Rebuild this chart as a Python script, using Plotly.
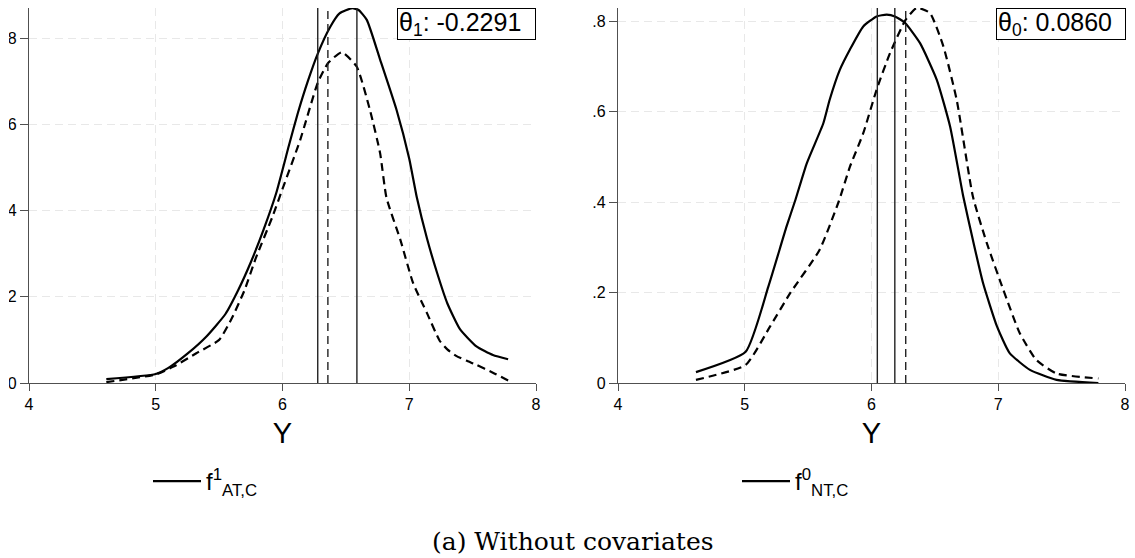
import plotly.graph_objects as go

W, H = 1135, 558

# ---------------- data ----------------
# Left panel: compliers vs always-takers
left_solid_x = [4.61, 5.0, 5.1, 5.25, 5.4, 5.55, 5.65, 5.75, 5.85, 5.95, 6.05, 6.12, 6.2,
                6.28, 6.375, 6.45, 6.55, 6.6, 6.665, 6.77, 6.9, 7.0, 7.06, 7.14, 7.22,
                7.3, 7.4, 7.53, 7.66, 7.78]
left_solid_y = [0.009, 0.021, 0.035, 0.068, 0.108, 0.16, 0.215, 0.28, 0.355, 0.44, 0.55,
                0.625, 0.70, 0.765, 0.825, 0.857, 0.869, 0.865, 0.842, 0.75, 0.633, 0.52,
                0.43, 0.335, 0.255, 0.185, 0.125, 0.085, 0.065, 0.055]
left_dash_x = [4.61, 5.0, 5.14, 5.32, 5.5, 5.6, 5.7, 5.79, 5.92, 6.0, 6.14, 6.278, 6.36,
               6.467, 6.585, 6.69, 6.77, 6.82, 6.93, 7.03, 7.14, 7.24, 7.3, 7.37, 7.45,
               7.53, 7.66, 7.78]
left_dash_y = [0.002, 0.02, 0.038, 0.069, 0.10, 0.15, 0.215, 0.29, 0.385, 0.45, 0.564,
               0.696, 0.742, 0.767, 0.734, 0.633, 0.533, 0.43, 0.332, 0.232, 0.162, 0.098,
               0.078, 0.063, 0.052, 0.042, 0.024, 0.006]
left_vlines_solid = [6.278, 6.587]
left_vline_dash = [6.358]
left_theta_label = "θ<sub>1</sub>: -0.2291"
left_legend_label = "f<sup>1</sup><sub>AT,C</sub>"

# Right panel: compliers vs never-takers
right_solid_x = [4.615, 5.007, 5.186, 5.33, 5.40, 5.49, 5.62, 5.67, 5.75, 5.83, 5.935,
                 6.04, 6.12, 6.185, 6.264, 6.383, 6.515, 6.62, 6.724, 6.80, 6.88, 6.99,
                 7.09, 7.25, 7.46, 7.79]
right_solid_y = [0.024, 0.069, 0.213, 0.346, 0.405, 0.486, 0.574, 0.626, 0.692, 0.737,
                 0.788, 0.81, 0.814, 0.81, 0.796, 0.751, 0.670, 0.567, 0.412, 0.316,
                 0.221, 0.125, 0.066, 0.029, 0.007, 0.0]
right_dash_x = [4.615, 5.007, 5.2, 5.357, 5.59, 5.74, 5.83, 5.935, 6.04, 6.146, 6.27,
                6.357, 6.46, 6.567, 6.672, 6.80, 6.91, 7.04, 7.17, 7.30, 7.46, 7.79]
right_dash_y = [0.007, 0.04, 0.125, 0.198, 0.294, 0.40, 0.478, 0.552, 0.648, 0.729,
                0.803, 0.829, 0.818, 0.744, 0.626, 0.412, 0.309, 0.206, 0.11, 0.051,
                0.021, 0.01]
right_vlines_solid = [6.046, 6.184]
right_vline_dash = [6.270]
right_theta_label = "θ<sub>0</sub>: 0.0860"
right_legend_label = "f<sup>0</sup><sub>NT,C</sub>"

x_ticks = [4, 5, 6, 7, 8]
y_ticks = [0, 0.2, 0.4, 0.6, 0.8]
y_ticktext = ["0", ".2", ".4", ".6", ".8"]
caption = "(a) Without covariates"

# ---------------- geometry ----------------
def px(v):
    return v / W

def py(v):
    return (H - v) / H

plot_top, plot_bottom = 8, 383
left_x0, left_x1 = 29, 536
right_x0, right_x1 = 618, 1125
left_ymax = (plot_bottom - plot_top) / 431.25
right_ymax = (plot_bottom - plot_top) / 452.5

DASH = "8px,5px"
GRID = "#e8e8e8"
AXC = "#505050"
FONT = "Liberation Sans"

fig = go.Figure()

def add_panel(xs, ys, xd, yd, xa, ya, legend, name):
    fig.add_trace(go.Scatter(x=xs, y=ys, mode="lines", xaxis=xa, yaxis=ya,
                             line=dict(color="black", width=2.2, shape="spline", smoothing=0.5),
                             name=name, legend=legend, showlegend=True))
    fig.add_trace(go.Scatter(x=xd, y=yd, mode="lines", xaxis=xa, yaxis=ya,
                             line=dict(color="black", width=2.2, dash=DASH, shape="spline", smoothing=0.5),
                             showlegend=False))

add_panel(left_solid_x, left_solid_y, left_dash_x, left_dash_y, "x", "y", "legend", left_legend_label)
add_panel(right_solid_x, right_solid_y, right_dash_x, right_dash_y, "x2", "y2", "legend2", right_legend_label)

def vlines(vals, xref, yref, dash):
    for v in vals:
        fig.add_shape(type="line", x0=v, x1=v, y0=0, y1=1, xref=xref, yref=yref + " domain",
                      line=dict(color="#222222", width=1.4, dash=dash))

vlines(left_vlines_solid, "x", "y", "solid")
vlines(left_vline_dash, "x", "y", DASH)
vlines(right_vlines_solid, "x2", "y2", "solid")
vlines(right_vline_dash, "x2", "y2", DASH)

# crop of the left edge as in the reference
fig.add_shape(type="rect", xref="paper", yref="paper", x0=-0.05, x1=px(9), y0=0.25, y1=1.05,
              fillcolor="white", line=dict(width=0), layer="above")

axis_common = dict(showline=True, linecolor=AXC, linewidth=1.3, ticks="outside",
                   tickcolor=AXC, tickwidth=1.2, showgrid=True, gridcolor=GRID, gridwidth=1,
                   griddash=DASH, zeroline=False, automargin=False,
                   tickfont=dict(family=FONT, size=16, color="black"))

xcommon = dict(axis_common, range=[4, 8], tickvals=x_ticks, ticklen=7,
               title=dict(text="Y", font=dict(family=FONT, size=29, color="black"), standoff=10))
ycommon = dict(axis_common, tickvals=y_ticks, ticktext=y_ticktext, ticklen=8)

fig.update_layout(
    width=W, height=H, autosize=False, template="none",
    margin=dict(l=0, r=0, t=0, b=0),
    paper_bgcolor="white", plot_bgcolor="white",
    font=dict(family=FONT, color="black"),
    xaxis=dict(xcommon, domain=[px(left_x0), px(left_x1)], anchor="y"),
    yaxis=dict(ycommon, domain=[py(plot_bottom), py(plot_top)], range=[0, left_ymax], anchor="x"),
    xaxis2=dict(xcommon, domain=[px(right_x0), px(right_x1)], anchor="y2"),
    yaxis2=dict(ycommon, domain=[py(plot_bottom), py(plot_top)], range=[0, right_ymax], anchor="x2"),
    legend=dict(x=px(148), y=py(459), xanchor="left", yanchor="top", bgcolor="rgba(0,0,0,0)",
                font=dict(family=FONT, size=24, color="black"), itemwidth=48),
    legend2=dict(x=px(148 + 589), y=py(459), xanchor="left", yanchor="top", bgcolor="rgba(0,0,0,0)",
                 font=dict(family=FONT, size=24, color="black"), itemwidth=48),
    showlegend=True,
)

def theta_box(text, right_px, width):
    fig.add_annotation(text=text, xref="paper", yref="paper", x=px(right_px), y=py(8),
                       xanchor="right", yanchor="top", showarrow=False, align="left",
                       width=width, height=28, bordercolor="black", borderwidth=1, borderpad=1,
                       bgcolor="white", font=dict(family=FONT, size=25, color="black"))

theta_box(left_theta_label, 536, 135)
theta_box(right_theta_label, 1126, 126)

fig.add_annotation(text=caption, xref="paper", yref="paper", x=px(573), y=py(541),
                   xanchor="center", yanchor="middle", showarrow=False,
                   font=dict(family="DejaVu Serif", size=25, color="black"))

fig.write_html("out.html")
